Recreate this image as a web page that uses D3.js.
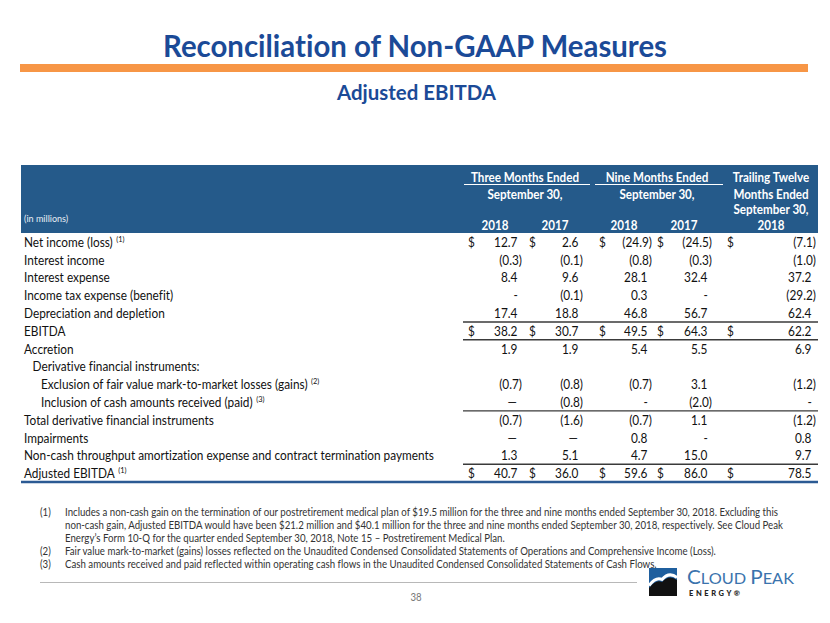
<!DOCTYPE html>
<html><head><meta charset="utf-8">
<script src="https://cdn.jsdelivr.net/npm/d3@7"></script>
<style>
html,body{margin:0;padding:0;background:#fff;}
svg{display:block;font-family:Lato,"Open Sans",sans-serif;font-variant-ligatures:none;font-feature-settings:"liga" 0,"clig" 0;}
</style></head>
<body>
<svg id="chart" width="830" height="623"></svg>
<script>
// ---------- DATA ----------
const title = "Reconciliation of Non-GAAP Measures";
const subtitle = "Adjusted EBITDA";
const unitNote = "(in millions)";
const groupHeaders = ["Three Months Ended", "Nine Months Ended"];
const groupSubHeader = "September 30,";
const ttmHeader = ["Trailing Twelve", "Months Ended", "September 30,"];
const columnYears = ["2018", "2017", "2018", "2017", "2018"];
const columns = ["q3_2018", "q3_2017", "ytd_2018", "ytd_2017", "ttm_2018"];

const rowLabels = [
  "Net income (loss)", "Interest income", "Interest expense", "Income tax expense (benefit)",
  "Depreciation and depletion", "EBITDA", "Accretion", "Derivative financial instruments:",
  "Exclusion of fair value mark-to-market losses (gains)", "Inclusion of cash amounts received (paid)",
  "Total derivative financial instruments", "Impairments",
  "Non-cash throughput amortization expense and contract termination payments", "Adjusted EBITDA"
];
const rowFootnotes = ["(1)", null, null, null, null, null, null, null, "(2)", "(3)", null, null, null, "(1)"];
const rowIndent = [0, 0, 0, 0, 0, 0, 0, 1, 2, 2, 0, 0, 0, 0];
const dollarRows = [0, 5, 13];

const q3_2018  = [12.7, -0.3, 8.4, "-", 17.4, 38.2, 1.9, null, -0.7, "—", -0.7, "—", 1.3, 40.7];
const q3_2017  = [2.6, -0.1, 9.6, -0.1, 18.8, 30.7, 1.9, null, -0.8, -0.8, -1.6, "—", 5.1, 36.0];
const ytd_2018 = [-24.9, -0.8, 28.1, 0.3, 46.8, 49.5, 5.4, null, -0.7, "-", -0.7, 0.8, 4.7, 59.6];
const ytd_2017 = [-24.5, -0.3, 32.4, "-", 56.7, 64.3, 5.5, null, 3.1, -2.0, 1.1, "-", 15.0, 86.0];
const ttm_2018 = [-7.1, -1.0, 37.2, -29.2, 62.4, 62.2, 6.9, null, -1.2, "-", -1.2, 0.8, 9.7, 78.5];
const seriesByColumn = {q3_2018, q3_2017, ytd_2018, ytd_2017, ttm_2018};

const footnotes = [
  ["(1)", "Includes a non-cash gain on the termination of our postretirement medical plan of $19.5 million for the three and nine months ended September 30, 2018.  Excluding this"],
  ["", "non-cash gain, Adjusted EBITDA would have been $21.2 million and $40.1 million for the three and nine months ended September 30, 2018, respectively. See Cloud Peak"],
  ["", "Energy’s Form 10-Q for the quarter ended September 30, 2018, Note 15 – Postretirement Medical Plan."],
  ["(2)", "Fair value mark-to-market (gains) losses reflected on the Unaudited Condensed Consolidated Statements of Operations and Comprehensive Income (Loss)."],
  ["(3)", "Cash amounts received and paid reflected within operating cash flows in the Unaudited Condensed Consolidated Statements of Cash Flows."]
];
const pageNumber = "38";

// ---------- LAYOUT ----------
const svg = d3.select("#chart");
const C = {title:"#1b4a97", orange:"#f79646", header:"#255a8a", text:"#111", rule:"#3a3a3a", foot:"#333"};
const tableLeft = 21, tableRight = 818, numLeft = 463;

function compress(sel, factor){
  sel.each(function(){
    const w = this.getComputedTextLength();
    d3.select(this).attr("textLength", w*factor).attr("lengthAdjust","spacingAndGlyphs");
  });
}
function fitTo(sel, target){
  sel.attr("textLength", target).attr("lengthAdjust","spacingAndGlyphs");
}
function factorFor(parent, str, target){
  const t = parent.append("text").text(str);
  const w = t.node().getComputedTextLength(); t.remove();
  return target / w;
}

// Title
svg.append("text").attr("x",415).attr("y",57).attr("text-anchor","middle")
  .attr("font-size",30).attr("font-weight",700).attr("fill",C.title).text(title)
  .call(fitTo, 504);
svg.append("rect").attr("x",20).attr("y",64).attr("width",788).attr("height",8).attr("fill",C.orange);
svg.append("text").attr("x",416.5).attr("y",100).attr("text-anchor","middle")
  .attr("font-size",21.5).attr("font-weight",700).attr("fill",C.title).text(subtitle)
  .call(fitTo, 159);

// Header
svg.append("rect").attr("x",tableLeft).attr("y",165).attr("width",tableRight-tableLeft).attr("height",68).attr("fill",C.header);
svg.append("text").attr("x",24).attr("y",222).attr("font-size",9.5).attr("fill","#e8eef5").text(unitNote)
  .call(compress, 0.95);

const colRight = d3.scaleOrdinal().domain(columns).range([522, 583, 652, 712, 816]);
const colDollar = d3.scaleOrdinal().domain(columns).range([468, 529, 599, 657, 727]);
const colCenter = d3.scaleOrdinal().domain(columns).range([495, 555, 624, 684, 771]);

const hdr = svg.append("g").attr("fill","#fff").attr("font-weight",700).attr("font-size",13.5).attr("text-anchor","middle");
const groups = [{x0:464, x1:590},{x0:595, x1:723}];
const hdrFactor = factorFor(hdr, groupHeaders[0], 108);
groups.forEach((g,i)=>{
  const cx = (g.x0+g.x1)/2 - 2;
  hdr.append("text").attr("x",cx).attr("y",181.5).text(groupHeaders[i]).call(compress,hdrFactor);
  svg.append("line").attr("x1",g.x0).attr("x2",g.x1).attr("y1",184.5).attr("y2",184.5).attr("stroke","#fff").attr("stroke-width",1);
  hdr.append("text").attr("x",cx).attr("y",199).text(groupSubHeader).call(compress,hdrFactor);
});
ttmHeader.forEach((t,i)=>{
  hdr.append("text").attr("x",colCenter("ttm_2018")).attr("y",181.5 + i*15.5 + (i>0?1.5:0)).text(t).call(compress,hdrFactor);
});
columns.forEach((c,i)=>{
  hdr.append("text").attr("x",colCenter(c)).attr("y",229.5).text(columnYears[i]).call(compress,hdrFactor);
});

// Body
const y = d3.scaleBand().domain(d3.range(rowLabels.length)).range([233, 482]).paddingInner(0);
const body = svg.append("g").attr("fill",C.text).attr("font-size",13.5);
const bodyFactor = factorFor(body, rowLabels[12], 410);

rowLabels.forEach((lab,i)=>{
  const cy = y(i) + y.bandwidth()/2 + 5;
  const x0 = 24 + rowIndent[i]*8.5;
  const t = body.append("g").attr("transform",`translate(${x0},${cy}) scale(${bodyFactor},1)`)
    .append("text").text(lab);
  if (rowFootnotes[i]) {
    const end = x0 + t.node().getComputedTextLength()*bodyFactor;
    body.append("g").attr("transform",`translate(${end + 3.5},${cy - 5}) scale(${bodyFactor},1)`)
      .append("text").attr("font-size", 8.5).text(rowFootnotes[i]);
  }
});

const fmt = d3.format(".1f");
const nums = svg.append("g").attr("fill",C.text).attr("font-size",13.5);
columns.forEach(c=>{
  seriesByColumn[c].forEach((v,i)=>{
    if (v === null) return;
    const cy = y(i) + y.bandwidth()/2 + 5;
    let str, x;
    if (v === "-") { str = "-"; x = colRight(c) - 4; }
    else if (v === "—") { str = "—"; x = colRight(c) - 5; }
    else if (v < 0) { str = "(" + fmt(-v) + ")"; x = colRight(c); }
    else { str = fmt(v); x = colRight(c) - 4.5; }
    nums.append("text").attr("x",x).attr("y",cy).attr("text-anchor","end").text(str).call(compress, bodyFactor);
    if (dollarRows.includes(i)) {
      nums.append("text").attr("x",colDollar(c)).attr("y",cy).text("$").call(compress, bodyFactor);
    }
  });
});

// Rules
const ruleAfter = [4, 5, 9, 12];
ruleAfter.forEach(i=>{
  const yy = y(i) + y.bandwidth();
  svg.append("line").attr("x1",numLeft).attr("x2",tableRight).attr("y1",yy).attr("y2",yy)
    .attr("stroke",C.rule).attr("stroke-width",1.4);
});
const yb = y(rowLabels.length-1) + y.bandwidth();
svg.append("line").attr("x1",tableLeft).attr("x2",tableRight).attr("y1",yb).attr("y2",yb)
  .attr("stroke","#2b5a93").attr("stroke-width",2.5);

// Footnotes (horizontally condensed via transform)
const fn = svg.append("g").attr("fill",C.foot).attr("font-size",10.8);
const fnFactor = factorFor(fn, footnotes[0][1], 713);
footnotes.forEach((f,i)=>{
  const yy = 515.5 + i*13;
  if (f[0]) fn.append("g").attr("transform",`translate(40,${yy}) scale(${fnFactor},1)`).append("text").text(f[0]);
  fn.append("g").attr("transform",`translate(65,${yy}) scale(${fnFactor},1)`).append("text").text(f[1]);
});

// Bottom rule and page number
svg.append("line").attr("x1",40).attr("x2",637).attr("y1",582.5).attr("y2",582.5).attr("stroke","#b8b8b8").attr("stroke-width",1);
svg.append("text").attr("x",416).attr("y",601).attr("text-anchor","middle").attr("font-size",12).attr("fill","#777").text(pageNumber)
  .call(compress, 0.8);

// Logo
const logo = svg.append("g");
logo.append("rect").attr("x",649).attr("y",568).attr("width",28).attr("height",28).attr("fill","#1f5f9e");
logo.append("path").attr("d","M649,588 Q656,579 662,582 Q669,574 677,580 L677,596 L649,596 Z").attr("fill","#111");
logo.append("path").attr("d","M649,585.5 Q656,576.5 662,579.5 Q669,571.5 677,577.5").attr("fill","none").attr("stroke","#fff").attr("stroke-width",3);
const lt = logo.append("text").attr("x",687).attr("y",583.5).attr("fill","#3a73ad").attr("font-weight",400);
lt.append("tspan").attr("font-size",19).text("C");
lt.append("tspan").attr("font-size",15).text("LOUD ");
lt.append("tspan").attr("font-size",19).text("P");
lt.append("tspan").attr("font-size",15).text("EAK");
fitTo(lt, 107);
logo.append("text").attr("x",689).attr("y",596).attr("font-size",7.5).attr("font-weight",900).attr("fill","#222")
  .attr("letter-spacing",2.6).text("ENERGY®");
</script>
</body></html>
